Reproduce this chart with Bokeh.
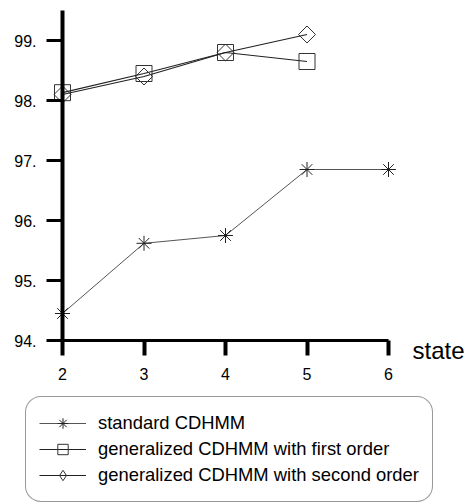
import math
from bokeh.plotting import figure
from bokeh.models import (Range1d, FixedTicker, Legend, LegendItem, Label)
from bokeh.embed import file_html
from bokeh.resources import INLINE

# ---- data ----
states_std = [2, 3, 4, 5, 6]
standard_cdhmm = [94.45, 95.62, 95.75, 96.85, 96.85]
states_gen = [2, 3, 4, 5]
first_order = [98.13, 98.45, 98.80, 98.65]
second_order = [98.10, 98.40, 98.80, 99.10]
y_ticks = [94, 95, 96, 97, 98, 99]
y_tick_labels = ["94.", "95.", "96.", "97.", "98.", "99."]
x_ticks = [2, 3, 4, 5, 6]
series_names = ["standard CDHMM",
                "generalized CDHMM with first order",
                "generalized CDHMM with second order"]
x_title = "state"

FONT = "Liberation Sans"

W, H = 470, 503
# pixel layout of the plotting area inside the figure
X0_PX, X1_PX = 62, 388      # where x=2 and x=6 sit
Y_TOP_PX, Y0_PX = 10, 340   # where y=99.5 and y=94 sit
xs = (X1_PX - X0_PX) / (x_ticks[-1] - x_ticks[0])
ys = (Y0_PX - Y_TOP_PX) / (99.5 - y_ticks[0])
x_range = Range1d(x_ticks[0] - X0_PX / xs, x_ticks[-1] + (W - X1_PX) / xs)
y_range = Range1d(y_ticks[0] - (H - Y0_PX) / ys, 99.5 + Y_TOP_PX / ys)

p = figure(width=W, height=H, output_backend="svg", toolbar_location=None,
           x_range=x_range, y_range=y_range,
           min_border=0,
           background_fill_color="white", border_fill_color="white")
p.outline_line_color = None
p.grid.visible = False

# axes
for ax in (p.xaxis[0], p.yaxis[0]):
    ax.axis_line_color = "black"
    ax.major_tick_line_color = "black"
    ax.minor_tick_line_color = None
    ax.major_tick_in = 0
    ax.major_label_text_font = FONT
    ax.major_label_text_font_size = "16px"
    ax.major_label_text_color = "black"

p.yaxis.fixed_location = x_ticks[0]
p.yaxis.bounds = (y_ticks[0], 99.5)
p.yaxis.axis_line_width = 4
p.yaxis.major_tick_line_width = 3
p.yaxis.major_tick_out = 16
p.yaxis.major_label_standoff = 10
p.yaxis.ticker = FixedTicker(ticks=y_ticks)
p.yaxis.major_label_overrides = {t: l for t, l in zip(y_ticks, y_tick_labels)}

p.xaxis.fixed_location = y_ticks[0]
p.xaxis.bounds = (x_ticks[0], x_ticks[-1])
p.xaxis.axis_line_width = 3
p.xaxis.major_tick_line_width = 4
p.xaxis.major_tick_out = 15
p.xaxis.major_label_standoff = 12
p.xaxis.ticker = FixedTicker(ticks=x_ticks)

# series
l1 = p.line(states_std, standard_cdhmm, line_color="#555555", line_width=1)
m1 = p.scatter(states_std, standard_cdhmm, marker="asterisk", size=15,
               line_color="#222222", line_width=1)
l2 = p.line(states_gen, first_order, line_color="#222222", line_width=1.2)
m2 = p.scatter(states_gen, first_order, marker="square", size=16,
               line_color="#333333", line_width=1, fill_alpha=0)
l3 = p.line(states_gen, second_order, line_color="#222222", line_width=1.2)
m3 = p.scatter(states_gen, second_order, marker="square", size=12, angle=math.pi / 4,
               line_color="#333333", line_width=1, fill_alpha=0)
# legend key for the diamond symbol (legend glyphs ignore marker rotation);
# it has no visible point in the plot
m3_key = p.scatter(x=[float("nan")], y=[float("nan")], marker="diamond", size=18,
                   line_color="#333333", line_width=1, fill_alpha=0)

# x axis title at right end
p.add_layout(Label(x=x_ticks[-1], y=y_ticks[0], x_offset=24, y_offset=-10, text=x_title,
                   text_font=FONT, text_font_size="24px", text_baseline="middle",
                   text_color="black"))

legend = Legend(items=[LegendItem(label=series_names[0], renderers=[l1, m1]),
                       LegendItem(label=series_names[1], renderers=[l2, m2]),
                       LegendItem(label=series_names[2], renderers=[l3, m3_key])],
                location=(25, 1), orientation="vertical")
legend.label_text_font = FONT
legend.label_text_font_size = "18.4px"
legend.label_text_color = "black"
legend.glyph_width = 47
legend.glyph_height = 26
legend.label_height = 26
legend.label_standoff = 12
legend.label_width = 300
legend.spacing = 0
legend.padding = 13
legend.margin = 0
legend.border_line_color = "#333333"
legend.border_line_width = 1
legend.background_fill_color = "white"
legend.background_fill_alpha = 1
if "border_radius" in Legend.properties():
    legend.border_radius = 16
p.add_layout(legend)

open("out.html", "w").write(file_html(p, INLINE))
